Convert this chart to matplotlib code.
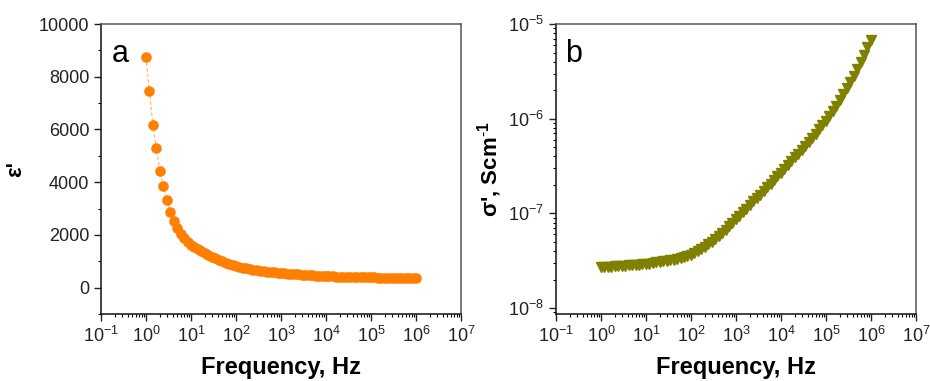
import numpy as np
import matplotlib
matplotlib.use('Agg')
import matplotlib.pyplot as plt
from matplotlib.ticker import LogLocator, MultipleLocator, NullFormatter

plt.rcParams['font.family'] = ['Liberation Sans', 'DejaVu Sans']
plt.rcParams['mathtext.fontset'] = 'custom'
plt.rcParams['mathtext.rm'] = 'Liberation Sans'
plt.rcParams['mathtext.bf'] = 'Liberation Sans:bold'
plt.rcParams['axes.unicode_minus'] = False

# frequencies: 13 points per decade from 1 Hz to 1 MHz
freq = 10 ** (np.arange(79) / 13)

eps_real = [8740, 7440, 6160, 5290, 4430, 3840, 3310, 2880, 2540, 2260, 2050, 1880, 1740,
            1630, 1540, 1455, 1375, 1300, 1230, 1165, 1105, 1050, 1000, 950, 905, 860,
            815, 785, 757, 731, 707, 685, 664, 645, 627, 610, 594, 579, 565,
            552, 540, 529, 518, 508, 498, 489, 480, 472, 464, 456, 449, 442,
            435, 430, 425, 420, 416, 412, 408, 404, 401, 398, 395, 392, 389,
            386, 384, 382, 380, 379, 378, 377, 376, 375, 374, 373, 372, 371,
            370]

# conductivity in units of 1e-8 S/cm
sigma_e8 = [2.69, 2.70, 2.72, 2.74, 2.75, 2.77, 2.78, 2.80, 2.82, 2.84, 2.86, 2.88, 2.90,
            2.92, 2.95, 2.99, 3.03, 3.07, 3.11, 3.14, 3.19, 3.25, 3.30, 3.37, 3.45, 3.54,
            3.63, 3.82, 4.01, 4.22, 4.45, 4.71, 4.99, 5.33, 5.76, 6.23, 6.75, 7.35, 8.00,
            8.71, 9.48, 10.33, 11.25, 12.25, 13.34, 14.52, 15.81, 17.27, 18.88, 20.63, 22.54, 24.62,
            26.92, 29.5, 32.4, 35.5, 38.9, 42.7, 46.8, 51.4, 56.8, 62.7, 69.4, 77.2, 85.9,
            95.5, 107.7, 121.6, 137.1, 157.1, 181.1, 208.9, 242.7, 285.6, 336.2, 397.2, 474.2, 566.2,
            676.1]
sigma = np.array(sigma_e8) * 1e-8

fig = plt.figure(figsize=(9.3, 3.81), dpi=100)
ax1 = fig.add_axes([0.1086, 0.1759, 0.3871, 0.7611])
ax2 = fig.add_axes([0.5978, 0.1759, 0.3871, 0.7611])

orange = '#ff7f00'
olive = '#808000'

ax1.plot(freq, eps_real, color=orange, lw=0.8, ls=(0, (3, 2)), alpha=0.6, zorder=2)
ax1.plot(freq, eps_real, 'o', color=orange, ms=6.6, mec=orange, zorder=3)
ax1.set_xscale('log')
ax1.set_xlim(1e-1, 1e7)
ax1.set_ylim(-1000, 10000)
ax1.set_yticks([0, 2000, 4000, 6000, 8000, 10000])
ax1.yaxis.set_minor_locator(MultipleLocator(1000))
ax1.set_ylabel("ε'", fontsize=16, fontweight='bold', labelpad=9)
ax1.text(0.03, 0.87, 'a', transform=ax1.transAxes, fontsize=22)

ax2.plot(freq, sigma, 'v', color=olive, ms=7, mec=olive)
ax2.set_xscale('log')
ax2.set_yscale('log')
ax2.set_xlim(1e-1, 1e7)
ax2.set_ylim(8.65e-9, 1e-5)
ax2.set_yticks([1e-8, 1e-7, 1e-6, 1e-5])
ax2.yaxis.set_minor_locator(LogLocator(base=10, subs=np.arange(2, 10)))
ax2.yaxis.set_minor_formatter(NullFormatter())
ax2.set_ylabel(r"σ', Scm$^{\mathbf{\text{-}1}}$", fontsize=16, fontweight='bold', labelpad=3)
ax2.text(0.025, 0.87, 'b', transform=ax2.transAxes, fontsize=22)

for ax in (ax1, ax2):
    ax.set_xticks([10.0 ** p for p in range(-1, 8)])
    ax.xaxis.set_minor_locator(LogLocator(base=10, subs=np.arange(2, 10), numticks=20))
    ax.xaxis.set_minor_formatter(NullFormatter())
    ax.set_xlabel('Frequency, Hz', fontsize=17, fontweight='bold', labelpad=7)
    ax.tick_params(which='major', direction='out', length=5, width=1, labelsize=13,
                   colors='#222222', top=False, right=False)
    ax.tick_params(which='minor', direction='out', length=2.5, width=0.8,
                   top=False, right=False)
    for side in ('left', 'bottom'):
        ax.spines[side].set_color('#111111')
        ax.spines[side].set_linewidth(1.1)
    for side in ('top', 'right'):
        ax.spines[side].set_color('#555555')
        ax.spines[side].set_linewidth(1.1)

fig.savefig('out.png', dpi=100)
